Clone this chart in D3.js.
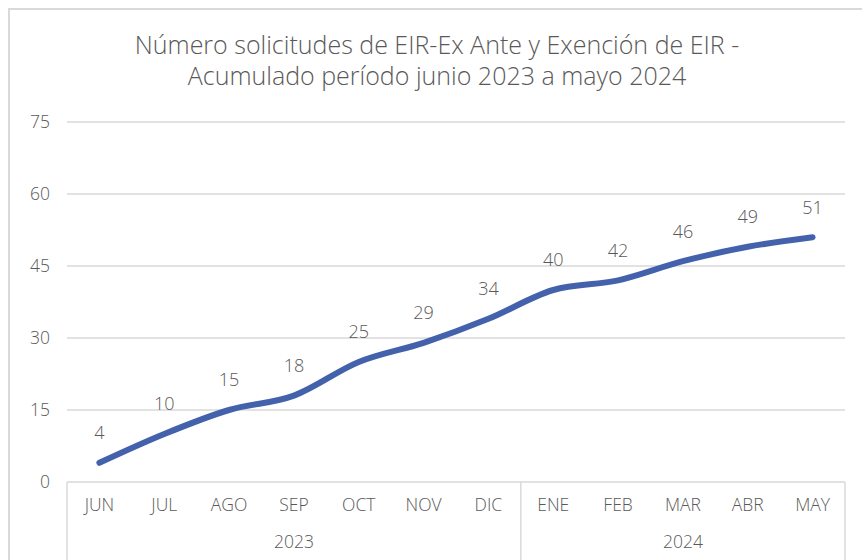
<!DOCTYPE html>
<html>
<head>
<meta charset="utf-8">
<script src="https://cdn.jsdelivr.net/npm/d3@7"></script>
<style>
  body { margin: 0; background: #fff; }
  text { font-family: "Open Sans", Lato, sans-serif; font-weight: 300; fill: #595959; }
</style>
</head>
<body>
<div id="chart"></div>
<script>
const months = ['JUN', 'JUL', 'AGO', 'SEP', 'OCT', 'NOV', 'DIC', 'ENE', 'FEB', 'MAR', 'ABR', 'MAY'];
const years = ['2023', '2024'];
const monthsPerYear = [7, 5];
const values = [4, 10, 15, 18, 25, 29, 34, 40, 42, 46, 49, 51];
const yTicks = [0, 15, 30, 45, 60, 75];
const titleLines = ['Número solicitudes de EIR-Ex Ante y Exención de EIR -', 'Acumulado período junio 2023 a mayo 2024'];

const chartWidth = 862;
const chartHeight = 560;
const plotLeft = 67, plotRight = 845, plotTop = 122, plotBottom = 482;
const gridColor = '#d9d9d9';

var svg = d3.select('#chart')
  .append('svg')
  .attr('width', chartWidth)
  .attr('height', chartHeight);

// outer frame
svg.append('path')
  .attr('d', 'M9,' + chartHeight + 'V9H' + chartWidth)
  .attr('fill', 'none')
  .attr('stroke', gridColor)
  .attr('stroke-width', 2);

// Scales
var scaleX = d3.scaleBand()
  .domain(months)
  .range([plotLeft, plotRight]);

var scaleY = d3.scaleLinear()
  .domain([0, 75])
  .range([plotBottom, plotTop]);

// title
svg.append('g')
  .selectAll('text')
  .data(titleLines)
  .enter()
  .append('text')
  .attr('x', 437)
  .attr('y', function (d, i) { return 54 + i * 31; })
  .attr('text-anchor', 'middle')
  .attr('font-size', '25px')
  .text(function (d) { return d; });

// gridlines + y labels
svg.append('g')
  .selectAll('line')
  .data(yTicks.filter(function (d) { return d > 0; }))
  .enter()
  .append('line')
  .attr('x1', plotLeft)
  .attr('x2', plotRight)
  .attr('y1', function (d) { return scaleY(d); })
  .attr('y2', function (d) { return scaleY(d); })
  .attr('stroke', gridColor)
  .attr('stroke-width', 1.5);

svg.append('g')
  .selectAll('text')
  .data(yTicks)
  .enter()
  .append('text')
  .attr('x', 50)
  .attr('y', function (d) { return scaleY(d); })
  .attr('dy', '0.35em')
  .attr('text-anchor', 'end')
  .attr('font-size', '17.5px')
  .text(function (d) { return d; });

// category axis: two levels
var axis = svg.append('g');
axis.append('line')
  .attr('x1', plotLeft).attr('x2', plotRight)
  .attr('y1', plotBottom).attr('y2', plotBottom)
  .attr('stroke', gridColor).attr('stroke-width', 1.5);

var bounds = [0];
monthsPerYear.forEach(function (n, i) { bounds.push(bounds[i] + n); });
function boundX(k) {
  return k < months.length ? scaleX(months[k]) : plotRight;
}

axis.selectAll('line.sep')
  .data(bounds)
  .enter()
  .append('line')
  .attr('class', 'sep')
  .attr('x1', boundX)
  .attr('x2', boundX)
  .attr('y1', plotBottom)
  .attr('y2', chartHeight)
  .attr('stroke', gridColor)
  .attr('stroke-width', 1.5);

axis.selectAll('text.month')
  .data(months)
  .enter()
  .append('text')
  .attr('class', 'month')
  .attr('x', function (d) { return scaleX(d) + scaleX.bandwidth() / 2; })
  .attr('y', 505)
  .attr('dy', '0.35em')
  .attr('text-anchor', 'middle')
  .attr('font-size', '17.5px')
  .text(function (d) { return d; });

axis.selectAll('text.year')
  .data(years)
  .enter()
  .append('text')
  .attr('class', 'year')
  .attr('x', function (d, i) { return (boundX(bounds[i]) + boundX(bounds[i + 1])) / 2; })
  .attr('y', 542)
  .attr('dy', '0.35em')
  .attr('text-anchor', 'middle')
  .attr('font-size', '17.5px')
  .text(function (d) { return d; });

// line
var line = d3.line()
  .x(function (d, i) { return scaleX(months[i]) + scaleX.bandwidth() / 2; })
  .y(function (d) { return scaleY(d); })
  .curve(d3.curveCardinal.tension(0));

svg.append('path')
  .datum(values)
  .attr('d', line)
  .attr('fill', 'none')
  .attr('stroke', '#4462AC')
  .attr('stroke-width', 6)
  .attr('stroke-linecap', 'round');

// data labels
svg.append('g')
  .selectAll('text')
  .data(values)
  .enter()
  .append('text')
  .attr('x', function (d, i) { return scaleX(months[i]) + scaleX.bandwidth() / 2; })
  .attr('y', function (d) { return scaleY(d) - 30; })
  .attr('dy', '0.35em')
  .attr('text-anchor', 'middle')
  .attr('font-size', '18px')
  .text(function (d) { return d; });
</script>
</body>
</html>
